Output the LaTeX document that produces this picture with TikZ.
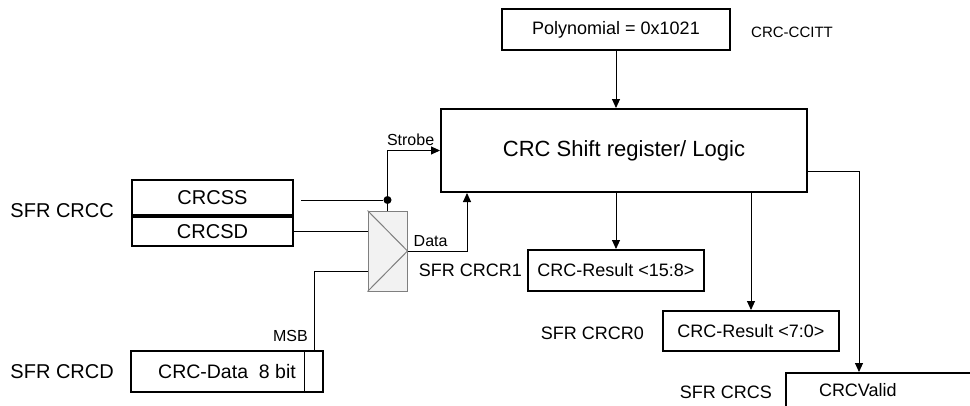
\documentclass[tikz,border=0pt]{standalone}
\usepackage{fontspec}
\setmainfont{Liberation Sans}
\usetikzlibrary{arrows.meta,positioning,calc}
\definecolor{Ink}{HTML}{000000}
\definecolor{MuxFill}{HTML}{F2F2F2}
\definecolor{MuxLine}{HTML}{7F7F7F}
\newcommand{\fsz}[1]{\fontsize{#1}{#1}\selectfont}
\tikzset{reg/.style={draw=Ink,line width=2pt,inner sep=0pt,align=center,font=\fsz{18}},
  lbl/.style={inner sep=0pt,font=\fsz{18}},
  sig/.style={inner sep=0pt,font=\fsz{16}},
  wire/.style={draw=Ink,line width=0.9pt},
  edge/.style={wire,-{Triangle[length=9pt,width=8pt]}}}

\begin{document}
\begin{tikzpicture}[x=1pt,y=-1pt]
  \clip (0,0) rectangle (970,405);
  % polynomial and shift register
  \node[reg,minimum width=228pt,minimum height=41pt] (poly) at (616,29.5) {Polynomial = 0x1021};
  \node[sig,font=\fsz{15},right=20pt of poly,yshift=-3pt] (ccitt) {CRC-CCITT};
  \node[reg,font=\fsz{22},minimum width=366pt,minimum height=83pt] (logic) at (624,150.5) {CRC Shift register/ Logic};
  \draw[edge] (poly.south) -- (poly.south |- logic.north);

  % SFR CRCC
  \node[reg,font=\fsz{20},minimum width=161pt,minimum height=35pt] (crcss) at (212.5,197.5) {CRCSS};
  \node[reg,font=\fsz{20},minimum width=161pt,minimum height=29pt,below=0pt of crcss] (crcsd) {CRCSD};
  \node[lbl,font=\fsz{20},left=17pt of crcss.south west,yshift=5pt] (sfrc) {SFR CRCC};

  % data mux
  \node[draw=MuxLine,fill=MuxFill,line width=1pt,minimum width=39pt,minimum height=80pt,inner sep=0pt] (mux) at (387.5,251) {};
  \draw[MuxLine,line width=1pt] (mux.north west) -- (mux.east) -- (mux.south west);
  \node[circle,fill=Ink,inner sep=0pt,minimum size=8pt] (tap) at (mux.north |- 0,200) {};
  \coordinate (din) at ($(mux.west)+(0,-20)$);
  \coordinate (msbin) at ($(mux.west)+(0,20)$);
  \draw[wire] ([xshift=7pt]crcss.east |- tap) -- (tap);
  \draw[wire] (tap) -- (mux.north);
  \draw[edge] (tap) |- (logic.west) node[sig,pos=0.72,above=4pt] (strobe) {Strobe};
  \draw[wire] (crcsd.east |- din) -- (din);
  \draw[edge] (mux.east) -| ($(logic.south west)+(27,0)$);
  \node[sig,anchor=south west] (datalbl) at ([xshift=6pt,yshift=4pt]mux.east) {Data};

  % SFR CRCD
  \node[reg,font=\fsz{19.5},minimum width=192pt,minimum height=41pt] (crcd) at (227,371.5) {CRC-Data\ \ 8 bit};
  \draw[line width=0.9pt] ([xshift=-20pt]crcd.north east) -- ([xshift=-20pt]crcd.south east);
  \coordinate (msbtap) at ([xshift=-10pt]crcd.north east);
  \draw[wire] (msbtap) |- (msbin);
  \node[sig,anchor=south east] (msb) at ([xshift=-6pt,yshift=8pt]msbtap) {MSB};
  \node[lbl,font=\fsz{20},left=16pt of crcd] (sfrd) {SFR CRCD};

  % results
  \node[reg,minimum width=176pt,minimum height=41pt] (crcr1) at (616,270.5) {CRC-Result <15:8>};
  \node[lbl,left=5pt of crcr1] (sfrr1) {SFR CRCR1};
  \node[reg,minimum width=176pt,minimum height=40pt] (crcr0) at (751,331) {CRC-Result <7:0>};
  \node[lbl,left=18pt of crcr0,yshift=-2pt] (sfrr0) {SFR CRCR0};
  \node[reg,anchor=north west,text width=150pt,align=left,inner xsep=33pt,inner ysep=0pt,
    text height=23pt,text depth=25pt] (crcs) at (785,372) {CRCValid};
  \node[lbl,anchor=base east] (sfrs) at ([xshift=-13pt,yshift=-2pt]crcs.base west) {SFR CRCS};
  \draw[edge] (logic.south -| crcr1.north) -- (crcr1.north);
  \draw[edge] (logic.south -| crcr0.north) -- (crcr0.north);
  \draw[edge] ($(logic.east)+(0,20.5)$) -| ($(crcs.north west)+(74,0)$);
\end{tikzpicture}
\end{document}
